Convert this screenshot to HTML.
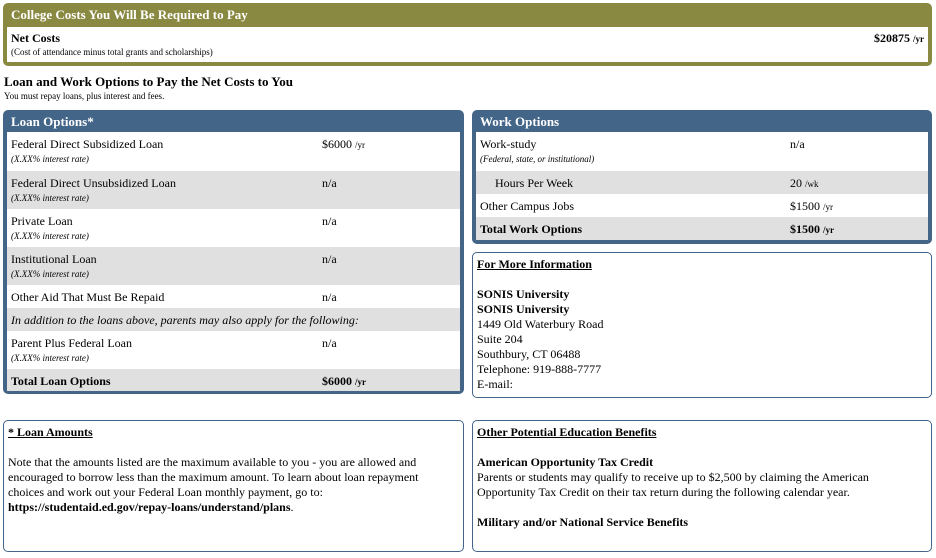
<!DOCTYPE html>
<html><head><style>
*{margin:0;padding:0;box-sizing:border-box}
body{width:936px;height:558px;background:#fff;font-family:"Liberation Serif",serif;font-size:12px;color:#000;position:relative;overflow:hidden}
.a{position:absolute}
.box{position:absolute;border-radius:5px}
.hd{color:#fff;font-weight:bold;font-size:13px;padding:4px 0 0 8px;height:22px}
.row{position:absolute;left:4px;right:4px}
.g{background:#e0e0e0}
.w{background:#fff}
.l{position:absolute;left:4px;top:5px}
.v{position:absolute;top:5px}
.n{font-size:9px;font-style:italic;position:absolute;left:4px;top:22px}
.s{font-size:9px}
.ib{position:absolute;border:1px solid #436588;border-radius:5px;padding:4px 4px;line-height:15px;font-size:12px}
.ib u{font-weight:bold}
</style></head><body>
<div class="box" style="left:3px;top:3px;width:929px;height:63px;background:#898942">
<div class="hd">College Costs You Will Be Required to Pay</div>
<div class="a w" style="left:4px;top:24px;right:4px;height:35px">
<div class="a" style="left:4px;top:4px;font-weight:bold">Net Costs</div>
<div class="a" style="left:4px;top:20px;font-size:9px">(Cost of attendance minus total grants and scholarships)</div>
<div class="a" style="right:4px;top:4px;font-weight:bold">$20875 <span class="s">/yr</span></div>
</div></div>
<div class="a" style="left:4px;top:74px;font-weight:bold;font-size:13px">Loan and Work Options to Pay the Net Costs to You</div>
<div class="a" style="left:4px;top:91px;font-size:9px">You must repay loans, plus interest and fees.</div>

<div class="box" style="left:3px;top:110px;width:461px;height:284px;background:#436588">
<div class="hd">Loan Options*</div>
<div class="row w" style="top:22px;height:39px"><div class="l">Federal Direct Subsidized Loan</div><div class="n">(X.XX% interest rate)</div><div class="v" style="left:315px">$6000 <span class="s">/yr</span></div></div>
<div class="row g" style="top:61px;height:38px"><div class="l">Federal Direct Unsubsidized Loan</div><div class="n">(X.XX% interest rate)</div><div class="v" style="left:315px">n/a</div></div>
<div class="row w" style="top:99px;height:38px"><div class="l">Private Loan</div><div class="n">(X.XX% interest rate)</div><div class="v" style="left:315px">n/a</div></div>
<div class="row g" style="top:137px;height:38px"><div class="l">Institutional Loan</div><div class="n">(X.XX% interest rate)</div><div class="v" style="left:315px">n/a</div></div>
<div class="row w" style="top:175px;height:23px"><div class="l">Other Aid That Must Be Repaid</div><div class="v" style="left:315px">n/a</div></div>
<div class="row g" style="top:198px;height:23px"><div class="l" style="font-style:italic">In addition to the loans above, parents may also apply for the following:</div></div>
<div class="row w" style="top:221px;height:38px"><div class="l">Parent Plus Federal Loan</div><div class="n">(X.XX% interest rate)</div><div class="v" style="left:315px">n/a</div></div>
<div class="row g" style="top:259px;height:22px;font-weight:bold"><div class="l">Total Loan Options</div><div class="v" style="left:315px">$6000 <span class="s">/yr</span></div></div>
</div>

<div class="box" style="left:472px;top:110px;width:460px;height:134px;background:#436588">
<div class="hd">Work Options</div>
<div class="row w" style="top:22px;height:39px"><div class="l">Work-study</div><div class="n">(Federal, state, or institutional)</div><div class="v" style="left:314px">n/a</div></div>
<div class="row g" style="top:61px;height:23px"><div class="l" style="left:19px">Hours Per Week</div><div class="v" style="left:314px">20 <span class="s">/wk</span></div></div>
<div class="row w" style="top:84px;height:23px"><div class="l">Other Campus Jobs</div><div class="v" style="left:314px">$1500 <span class="s">/yr</span></div></div>
<div class="row g" style="top:107px;height:23px;font-weight:bold"><div class="l">Total Work Options</div><div class="v" style="left:314px">$1500 <span class="s">/yr</span></div></div>
</div>

<div class="ib" style="left:472px;top:252px;width:460px;height:146px">
<u>For More Information</u><br><br><b>SONIS University</b><br><b>SONIS University</b><br>1449 Old Waterbury Road<br>Suite 204<br>Southbury, CT 06488<br>Telephone: 919-888-7777<br>E-mail:
</div>
<div class="ib" style="left:3px;top:420px;width:461px;height:132px;padding-right:20px">
<u>* Loan Amounts</u><br><br>Note that the amounts listed are the maximum available to you - you are allowed and encouraged to borrow less than the maximum amount. To learn about loan repayment choices and work out your Federal Loan monthly payment, go to: <b style="white-space:nowrap">https://studentaid.ed.gov/repay-loans/understand/plans</b>.
</div>
<div class="ib" style="left:472px;top:420px;width:460px;height:132px">
<u>Other Potential Education Benefits</u><br><br><b>American Opportunity Tax Credit</b><br>Parents or students may qualify to receive up to $2,500 by claiming the American Opportunity Tax Credit on their tax return during the following calendar year.<br><br><b>Military and/or National Service Benefits</b>
</div>
</body></html>
